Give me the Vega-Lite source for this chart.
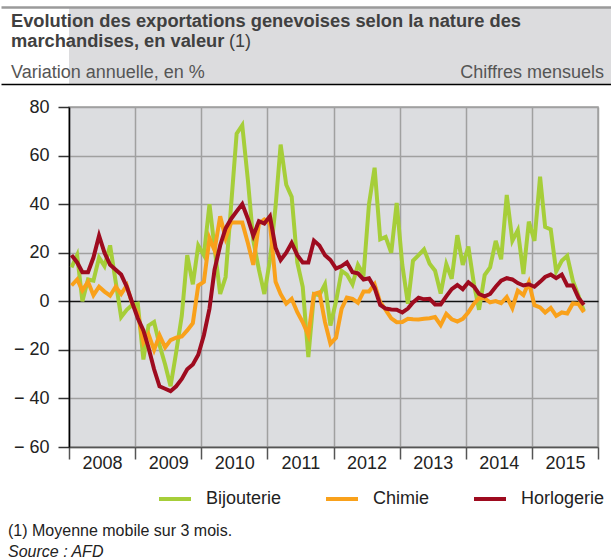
{
"$schema": "https://vega.github.io/schema/vega-lite/v6.json",
"padding": {"top": 7, "left": 0, "right": 0, "bottom": 0},
"background": "white",
"columns": 1,
"spacing": 13,
"resolve": {"legend": {"color": "independent"}},
"config": {"font": "Liberation Sans", "view": {"stroke": null}},
"concat": [
{
"width": 543, "height": 77,
"view": {"fill": "#dcdcde", "stroke": null},
"layer": [
{"data": {"values": [{"t": "Chiffres mensuels"}]},
 "mark": {"type": "text", "align": "right", "baseline": "alphabetic", "fontSize": 18, "color": "#555555", "dx": -8, "dy": -5},
 "encoding": {"text": {"field": "t"},
  "x": {"datum": 1, "type": "quantitative", "scale": {"domain": [0, 1], "range": [-68, 543]}, "axis": {"orient": "bottom", "domain": true, "domainColor": "#000000", "domainWidth": 1.5, "ticks": false, "labels": false, "grid": false, "title": null}},
  "y": {"datum": 0, "type": "quantitative", "scale": {"domain": [0, 1], "range": [76, 1]}, "axis": null}}},
{"data": {"values": [{"t": "Variation annuelle, en %"}]},
 "mark": {"type": "text", "align": "left", "baseline": "alphabetic", "fontSize": 18, "color": "#555555", "dx": 10, "dy": -5},
 "encoding": {"text": {"field": "t"},
  "x": {"datum": 0, "type": "quantitative", "axis": {"orient": "top", "domain": true, "domainColor": "#9a9a9a", "domainWidth": 2.5, "ticks": false, "labels": false, "grid": false, "title": null}},
  "y": {"datum": 0, "type": "quantitative", "axis": {"orient": "left", "domain": true, "domainColor": "#dcdcde", "domainWidth": 136, "ticks": false, "labels": false, "grid": false, "title": null, "minExtent": 0, "maxExtent": 0}}}},
{"data": {"values": [{"t": ["Evolution des exportations genevoises selon la nature des", "marchandises, en valeur"]}]},
 "mark": {"type": "text", "align": "left", "baseline": "alphabetic", "fontSize": 18.3, "fontWeight": "bold", "color": "#404040", "dx": 10, "dy": 19, "lineHeight": 20},
 "encoding": {"text": {"field": "t"},
  "x": {"datum": 0, "type": "quantitative", "axis": null},
  "y": {"datum": 1, "type": "quantitative", "axis": null}}},
{"data": {"values": [{"t": "(1)"}]},
 "mark": {"type": "text", "align": "left", "baseline": "alphabetic", "fontSize": 18, "color": "#404040", "dx": 228, "dy": 39},
 "encoding": {"text": {"field": "t"},
  "x": {"datum": 0, "type": "quantitative", "axis": null},
  "y": {"datum": 1, "type": "quantitative", "axis": null}}}
],
"resolve": {"axis": {"x": "independent"}}
},
{
"width": 529, "height": 340,
"view": {"fill": "#dcdde0", "stroke": "#a0a0a0", "strokeWidth": 1.5},
"title": {"text": "(1) Moyenne mobile sur 3 mois.", "subtitle": "Source : AFD", "orient": "bottom", "anchor": "start", "frame": "bounds", "fontSize": 16, "fontWeight": "normal", "color": "#222222", "subtitleFontSize": 16, "subtitleFontStyle": "italic", "subtitleColor": "#222222", "offset": 15, "subtitlePadding": 5, "dx": 7},
"data": {"values": [
{"m":"2008-01-15","s":"Bijouterie","v":14},{"m":"2008-02-15","s":"Bijouterie","v":19},{"m":"2008-03-15","s":"Bijouterie","v":0},{"m":"2008-04-15","s":"Bijouterie","v":9},{"m":"2008-05-15","s":"Bijouterie","v":8.5},{"m":"2008-06-15","s":"Bijouterie","v":18},{"m":"2008-07-15","s":"Bijouterie","v":14.5},{"m":"2008-08-15","s":"Bijouterie","v":23},{"m":"2008-09-15","s":"Bijouterie","v":8},{"m":"2008-10-15","s":"Bijouterie","v":-6.5},{"m":"2008-11-15","s":"Bijouterie","v":-3.5},{"m":"2008-12-15","s":"Bijouterie","v":-1.5},
{"m":"2009-01-15","s":"Bijouterie","v":-1},{"m":"2009-02-15","s":"Bijouterie","v":-24},{"m":"2009-03-15","s":"Bijouterie","v":-10},{"m":"2009-04-15","s":"Bijouterie","v":-8.5},{"m":"2009-05-15","s":"Bijouterie","v":-18},{"m":"2009-06-15","s":"Bijouterie","v":-26},{"m":"2009-07-15","s":"Bijouterie","v":-35},{"m":"2009-08-15","s":"Bijouterie","v":-21},{"m":"2009-09-15","s":"Bijouterie","v":-6},{"m":"2009-10-15","s":"Bijouterie","v":19},{"m":"2009-11-15","s":"Bijouterie","v":7},{"m":"2009-12-15","s":"Bijouterie","v":23},
{"m":"2010-01-15","s":"Bijouterie","v":19},{"m":"2010-02-15","s":"Bijouterie","v":40},{"m":"2010-03-15","s":"Bijouterie","v":22},{"m":"2010-04-15","s":"Bijouterie","v":3},{"m":"2010-05-15","s":"Bijouterie","v":10},{"m":"2010-06-15","s":"Bijouterie","v":40},{"m":"2010-07-15","s":"Bijouterie","v":69},{"m":"2010-08-15","s":"Bijouterie","v":72.5},{"m":"2010-09-15","s":"Bijouterie","v":50},{"m":"2010-10-15","s":"Bijouterie","v":25},{"m":"2010-11-15","s":"Bijouterie","v":13},{"m":"2010-12-15","s":"Bijouterie","v":3},
{"m":"2011-01-15","s":"Bijouterie","v":17},{"m":"2011-02-15","s":"Bijouterie","v":39},{"m":"2011-03-15","s":"Bijouterie","v":64.5},{"m":"2011-04-15","s":"Bijouterie","v":48},{"m":"2011-05-15","s":"Bijouterie","v":43},{"m":"2011-06-15","s":"Bijouterie","v":16},{"m":"2011-07-15","s":"Bijouterie","v":6},{"m":"2011-08-15","s":"Bijouterie","v":-23},{"m":"2011-09-15","s":"Bijouterie","v":3},{"m":"2011-10-15","s":"Bijouterie","v":2.5},{"m":"2011-11-15","s":"Bijouterie","v":7},{"m":"2011-12-15","s":"Bijouterie","v":-10},
{"m":"2012-01-15","s":"Bijouterie","v":0},{"m":"2012-02-15","s":"Bijouterie","v":12.5},{"m":"2012-03-15","s":"Bijouterie","v":11},{"m":"2012-04-15","s":"Bijouterie","v":7},{"m":"2012-05-15","s":"Bijouterie","v":15},{"m":"2012-06-15","s":"Bijouterie","v":11},{"m":"2012-07-15","s":"Bijouterie","v":40},{"m":"2012-08-15","s":"Bijouterie","v":55},{"m":"2012-09-15","s":"Bijouterie","v":25.5},{"m":"2012-10-15","s":"Bijouterie","v":26.5},{"m":"2012-11-15","s":"Bijouterie","v":20},{"m":"2012-12-15","s":"Bijouterie","v":40.5},
{"m":"2013-01-15","s":"Bijouterie","v":15},{"m":"2013-02-15","s":"Bijouterie","v":-1},{"m":"2013-03-15","s":"Bijouterie","v":16.7},{"m":"2013-04-15","s":"Bijouterie","v":19},{"m":"2013-05-15","s":"Bijouterie","v":21.4},{"m":"2013-06-15","s":"Bijouterie","v":15.5},{"m":"2013-07-15","s":"Bijouterie","v":12.6},{"m":"2013-08-15","s":"Bijouterie","v":3.2},{"m":"2013-09-15","s":"Bijouterie","v":15.3},{"m":"2013-10-15","s":"Bijouterie","v":9.3},{"m":"2013-11-15","s":"Bijouterie","v":27.2},{"m":"2013-12-15","s":"Bijouterie","v":15},
{"m":"2014-01-15","s":"Bijouterie","v":22.5},{"m":"2014-02-15","s":"Bijouterie","v":7},{"m":"2014-03-15","s":"Bijouterie","v":-3.5},{"m":"2014-04-15","s":"Bijouterie","v":10.8},{"m":"2014-05-15","s":"Bijouterie","v":13.9},{"m":"2014-06-15","s":"Bijouterie","v":24.9},{"m":"2014-07-15","s":"Bijouterie","v":17.3},{"m":"2014-08-15","s":"Bijouterie","v":43.8},{"m":"2014-09-15","s":"Bijouterie","v":24.9},{"m":"2014-10-15","s":"Bijouterie","v":29.3},{"m":"2014-11-15","s":"Bijouterie","v":11.2},{"m":"2014-12-15","s":"Bijouterie","v":32.8},
{"m":"2015-01-15","s":"Bijouterie","v":24.9},{"m":"2015-02-15","s":"Bijouterie","v":51.3},{"m":"2015-03-15","s":"Bijouterie","v":30.6},{"m":"2015-04-15","s":"Bijouterie","v":29.6},{"m":"2015-05-15","s":"Bijouterie","v":12.3},{"m":"2015-06-15","s":"Bijouterie","v":16.7},{"m":"2015-07-15","s":"Bijouterie","v":18.7},{"m":"2015-08-15","s":"Bijouterie","v":8.5},{"m":"2015-09-15","s":"Bijouterie","v":2.3},{"m":"2015-10-15","s":"Bijouterie","v":-4},
{"m":"2008-01-15","s":"Chimie","v":6.5},{"m":"2008-02-15","s":"Chimie","v":9},{"m":"2008-03-15","s":"Chimie","v":4.5},{"m":"2008-04-15","s":"Chimie","v":8},{"m":"2008-05-15","s":"Chimie","v":2.5},{"m":"2008-06-15","s":"Chimie","v":6},{"m":"2008-07-15","s":"Chimie","v":4},{"m":"2008-08-15","s":"Chimie","v":2.3},{"m":"2008-09-15","s":"Chimie","v":6},{"m":"2008-10-15","s":"Chimie","v":3},{"m":"2008-11-15","s":"Chimie","v":6.5},{"m":"2008-12-15","s":"Chimie","v":-1},
{"m":"2009-01-15","s":"Chimie","v":-5},{"m":"2009-02-15","s":"Chimie","v":-17},{"m":"2009-03-15","s":"Chimie","v":-13.5},{"m":"2009-04-15","s":"Chimie","v":-20},{"m":"2009-05-15","s":"Chimie","v":-14},{"m":"2009-06-15","s":"Chimie","v":-19},{"m":"2009-07-15","s":"Chimie","v":-16},{"m":"2009-08-15","s":"Chimie","v":-15},{"m":"2009-09-15","s":"Chimie","v":-14.5},{"m":"2009-10-15","s":"Chimie","v":-12},{"m":"2009-11-15","s":"Chimie","v":-9},{"m":"2009-12-15","s":"Chimie","v":6.5},
{"m":"2010-01-15","s":"Chimie","v":8},{"m":"2010-02-15","s":"Chimie","v":26},{"m":"2010-03-15","s":"Chimie","v":21},{"m":"2010-04-15","s":"Chimie","v":35},{"m":"2010-05-15","s":"Chimie","v":26},{"m":"2010-06-15","s":"Chimie","v":32.4},{"m":"2010-07-15","s":"Chimie","v":32.4},{"m":"2010-08-15","s":"Chimie","v":32.4},{"m":"2010-09-15","s":"Chimie","v":24},{"m":"2010-10-15","s":"Chimie","v":15},{"m":"2010-11-15","s":"Chimie","v":32},{"m":"2010-12-15","s":"Chimie","v":33.7},
{"m":"2011-01-15","s":"Chimie","v":32},{"m":"2011-02-15","s":"Chimie","v":8},{"m":"2011-03-15","s":"Chimie","v":3},{"m":"2011-04-15","s":"Chimie","v":-1},{"m":"2011-05-15","s":"Chimie","v":1},{"m":"2011-06-15","s":"Chimie","v":-4.5},{"m":"2011-07-15","s":"Chimie","v":-8.6},{"m":"2011-08-15","s":"Chimie","v":-14},{"m":"2011-09-15","s":"Chimie","v":3},{"m":"2011-10-15","s":"Chimie","v":3.7},{"m":"2011-11-15","s":"Chimie","v":-8.6},{"m":"2011-12-15","s":"Chimie","v":-17.5},
{"m":"2012-01-15","s":"Chimie","v":-15},{"m":"2012-02-15","s":"Chimie","v":-3},{"m":"2012-03-15","s":"Chimie","v":1.5},{"m":"2012-04-15","s":"Chimie","v":1},{"m":"2012-05-15","s":"Chimie","v":-0.6},{"m":"2012-06-15","s":"Chimie","v":4},{"m":"2012-07-15","s":"Chimie","v":4},{"m":"2012-08-15","s":"Chimie","v":7},{"m":"2012-09-15","s":"Chimie","v":-0.4},{"m":"2012-10-15","s":"Chimie","v":-3.5},{"m":"2012-11-15","s":"Chimie","v":-7},{"m":"2012-12-15","s":"Chimie","v":-8.6},
{"m":"2013-01-15","s":"Chimie","v":-8.5},{"m":"2013-02-15","s":"Chimie","v":-7.2},{"m":"2013-03-15","s":"Chimie","v":-7.4},{"m":"2013-04-15","s":"Chimie","v":-7.5},{"m":"2013-05-15","s":"Chimie","v":-7.2},{"m":"2013-06-15","s":"Chimie","v":-7},{"m":"2013-07-15","s":"Chimie","v":-6.5},{"m":"2013-08-15","s":"Chimie","v":-9.8},{"m":"2013-09-15","s":"Chimie","v":-5.2},{"m":"2013-10-15","s":"Chimie","v":-7.4},{"m":"2013-11-15","s":"Chimie","v":-8.3},{"m":"2013-12-15","s":"Chimie","v":-7.2},
{"m":"2014-01-15","s":"Chimie","v":-4.5},{"m":"2014-02-15","s":"Chimie","v":-1},{"m":"2014-03-15","s":"Chimie","v":1.4},{"m":"2014-04-15","s":"Chimie","v":1.2},{"m":"2014-05-15","s":"Chimie","v":-0.4},{"m":"2014-06-15","s":"Chimie","v":0.1},{"m":"2014-07-15","s":"Chimie","v":-0.8},{"m":"2014-08-15","s":"Chimie","v":1.8},{"m":"2014-09-15","s":"Chimie","v":-2.8},{"m":"2014-10-15","s":"Chimie","v":4.4},{"m":"2014-11-15","s":"Chimie","v":2.6},{"m":"2014-12-15","s":"Chimie","v":7.8},
{"m":"2015-01-15","s":"Chimie","v":-1.6},{"m":"2015-02-15","s":"Chimie","v":-2.5},{"m":"2015-03-15","s":"Chimie","v":-4.6},{"m":"2015-04-15","s":"Chimie","v":-2.7},{"m":"2015-05-15","s":"Chimie","v":-6},{"m":"2015-06-15","s":"Chimie","v":-4.6},{"m":"2015-07-15","s":"Chimie","v":-5},{"m":"2015-08-15","s":"Chimie","v":-0.9},{"m":"2015-09-15","s":"Chimie","v":-1.1},{"m":"2015-10-15","s":"Chimie","v":-4.5},
{"m":"2008-01-15","s":"Horlogerie","v":19},{"m":"2008-02-15","s":"Horlogerie","v":16},{"m":"2008-03-15","s":"Horlogerie","v":12},{"m":"2008-04-15","s":"Horlogerie","v":12},{"m":"2008-05-15","s":"Horlogerie","v":18},{"m":"2008-06-15","s":"Horlogerie","v":27},{"m":"2008-07-15","s":"Horlogerie","v":20},{"m":"2008-08-15","s":"Horlogerie","v":15},{"m":"2008-09-15","s":"Horlogerie","v":13},{"m":"2008-10-15","s":"Horlogerie","v":11},{"m":"2008-11-15","s":"Horlogerie","v":6},{"m":"2008-12-15","s":"Horlogerie","v":-0.5},
{"m":"2009-01-15","s":"Horlogerie","v":-7},{"m":"2009-02-15","s":"Horlogerie","v":-12},{"m":"2009-03-15","s":"Horlogerie","v":-19},{"m":"2009-04-15","s":"Horlogerie","v":-28},{"m":"2009-05-15","s":"Horlogerie","v":-35},{"m":"2009-06-15","s":"Horlogerie","v":-36},{"m":"2009-07-15","s":"Horlogerie","v":-37},{"m":"2009-08-15","s":"Horlogerie","v":-35},{"m":"2009-09-15","s":"Horlogerie","v":-32},{"m":"2009-10-15","s":"Horlogerie","v":-28},{"m":"2009-11-15","s":"Horlogerie","v":-26},{"m":"2009-12-15","s":"Horlogerie","v":-22},
{"m":"2010-01-15","s":"Horlogerie","v":-14},{"m":"2010-02-15","s":"Horlogerie","v":-3},{"m":"2010-03-15","s":"Horlogerie","v":13},{"m":"2010-04-15","s":"Horlogerie","v":23},{"m":"2010-05-15","s":"Horlogerie","v":30},{"m":"2010-06-15","s":"Horlogerie","v":34},{"m":"2010-07-15","s":"Horlogerie","v":37},{"m":"2010-08-15","s":"Horlogerie","v":40},{"m":"2010-09-15","s":"Horlogerie","v":34},{"m":"2010-10-15","s":"Horlogerie","v":27},{"m":"2010-11-15","s":"Horlogerie","v":33},{"m":"2010-12-15","s":"Horlogerie","v":32},
{"m":"2011-01-15","s":"Horlogerie","v":35},{"m":"2011-02-15","s":"Horlogerie","v":22},{"m":"2011-03-15","s":"Horlogerie","v":17},{"m":"2011-04-15","s":"Horlogerie","v":20},{"m":"2011-05-15","s":"Horlogerie","v":24},{"m":"2011-06-15","s":"Horlogerie","v":19},{"m":"2011-07-15","s":"Horlogerie","v":16},{"m":"2011-08-15","s":"Horlogerie","v":16},{"m":"2011-09-15","s":"Horlogerie","v":25},{"m":"2011-10-15","s":"Horlogerie","v":23},{"m":"2011-11-15","s":"Horlogerie","v":19},{"m":"2011-12-15","s":"Horlogerie","v":17},
{"m":"2012-01-15","s":"Horlogerie","v":13.5},{"m":"2012-02-15","s":"Horlogerie","v":14.5},{"m":"2012-03-15","s":"Horlogerie","v":16},{"m":"2012-04-15","s":"Horlogerie","v":12},{"m":"2012-05-15","s":"Horlogerie","v":11.5},{"m":"2012-06-15","s":"Horlogerie","v":9},{"m":"2012-07-15","s":"Horlogerie","v":9.5},{"m":"2012-08-15","s":"Horlogerie","v":5.5},{"m":"2012-09-15","s":"Horlogerie","v":-1.5},{"m":"2012-10-15","s":"Horlogerie","v":-3},{"m":"2012-11-15","s":"Horlogerie","v":-3.4},{"m":"2012-12-15","s":"Horlogerie","v":-3.5},
{"m":"2013-01-15","s":"Horlogerie","v":-4.6},{"m":"2013-02-15","s":"Horlogerie","v":-3},{"m":"2013-03-15","s":"Horlogerie","v":-0.5},{"m":"2013-04-15","s":"Horlogerie","v":1.5},{"m":"2013-05-15","s":"Horlogerie","v":0.8},{"m":"2013-06-15","s":"Horlogerie","v":1},{"m":"2013-07-15","s":"Horlogerie","v":-1.3},{"m":"2013-08-15","s":"Horlogerie","v":-1.3},{"m":"2013-09-15","s":"Horlogerie","v":2},{"m":"2013-10-15","s":"Horlogerie","v":5},{"m":"2013-11-15","s":"Horlogerie","v":6.7},{"m":"2013-12-15","s":"Horlogerie","v":5},
{"m":"2014-01-15","s":"Horlogerie","v":7.8},{"m":"2014-02-15","s":"Horlogerie","v":6},{"m":"2014-03-15","s":"Horlogerie","v":3},{"m":"2014-04-15","s":"Horlogerie","v":2},{"m":"2014-05-15","s":"Horlogerie","v":3},{"m":"2014-06-15","s":"Horlogerie","v":6},{"m":"2014-07-15","s":"Horlogerie","v":8.5},{"m":"2014-08-15","s":"Horlogerie","v":9.5},{"m":"2014-09-15","s":"Horlogerie","v":9},{"m":"2014-10-15","s":"Horlogerie","v":7.5},{"m":"2014-11-15","s":"Horlogerie","v":6.5},{"m":"2014-12-15","s":"Horlogerie","v":7},
{"m":"2015-01-15","s":"Horlogerie","v":6},{"m":"2015-02-15","s":"Horlogerie","v":8},{"m":"2015-03-15","s":"Horlogerie","v":10},{"m":"2015-04-15","s":"Horlogerie","v":11},{"m":"2015-05-15","s":"Horlogerie","v":9.5},{"m":"2015-06-15","s":"Horlogerie","v":11},{"m":"2015-07-15","s":"Horlogerie","v":6.5},{"m":"2015-08-15","s":"Horlogerie","v":6.5},{"m":"2015-09-15","s":"Horlogerie","v":1.5},{"m":"2015-10-15","s":"Horlogerie","v":-1.5}
]},
"mark": {"type": "line", "strokeWidth": 4},
"encoding": {
"x": {"field": "m", "type": "temporal",
 "scale": {"type": "utc", "domain": [{"year": 2008, "month": 1, "date": 1, "utc": true}, {"year": 2016, "month": 1, "date": 1, "utc": true}]},
 "axis": {"values": [{"year": 2008, "month": 1, "date": 1, "utc": true}, {"year": 2009, "month": 1, "date": 1, "utc": true}, {"year": 2010, "month": 1, "date": 1, "utc": true}, {"year": 2011, "month": 1, "date": 1, "utc": true}, {"year": 2012, "month": 1, "date": 1, "utc": true}, {"year": 2013, "month": 1, "date": 1, "utc": true}, {"year": 2014, "month": 1, "date": 1, "utc": true}, {"year": 2015, "month": 1, "date": 1, "utc": true}, {"year": 2016, "month": 1, "date": 1, "utc": true}],
  "labelExpr": "utcFormat(datum.value, '%Y') == '2016' ? '' : utcFormat(datum.value, '%Y')",
  "labelOffset": 33, "labelAlign": "center", "labelBaseline": "top", "labelFlush": false, "labelOverlap": false, "labelBound": false,
  "labelFontSize": 18, "labelColor": "#222222", "labelPadding": -5,
  "tickSize": 12, "tickColor": "#555555", "tickWidth": 1.5, "domainColor": "#555555", "domainWidth": 1.5,
  "grid": true, "gridColor": "#a0a0a0", "gridWidth": 1.5, "title": null}},
"y": {"field": "v", "type": "quantitative",
 "scale": {"domain": [-60, 80], "nice": false, "zero": false},
 "axis": {"values": [-60, -40, -20, 0, 20, 40, 60, 80],
  "labelExpr": "datum.value < 0 ? '− ' + abs(datum.value) : '' + datum.value",
  "labelFontSize": 18, "labelColor": "#222222", "labelPadding": 9,
  "tickSize": 11, "tickColor": "#333333", "tickWidth": 1.5,
  "domainColor": "#000000", "domainWidth": 1.5,
  "grid": true, "gridColor": {"condition": {"test": "datum.value === 0", "value": "#111111"}, "value": "#a0a0a0"}, "gridWidth": 1.5,
  "minExtent": 68, "title": null}},
"color": {"field": "s", "type": "nominal",
 "scale": {"domain": ["Bijouterie", "Chimie", "Horlogerie"], "range": ["#a6ce39", "#f9a11b", "#9e0b1f"]},
 "legend": {"orient": "none", "legendX": 88, "legendY": 374, "direction": "horizontal", "title": null, "symbolType": "stroke", "symbolStrokeWidth": 4, "symbolSize": 1024, "labelFontSize": 18, "labelColor": "#222222", "labelOffset": 13, "columnPadding": 36}}
}
}
]
}
